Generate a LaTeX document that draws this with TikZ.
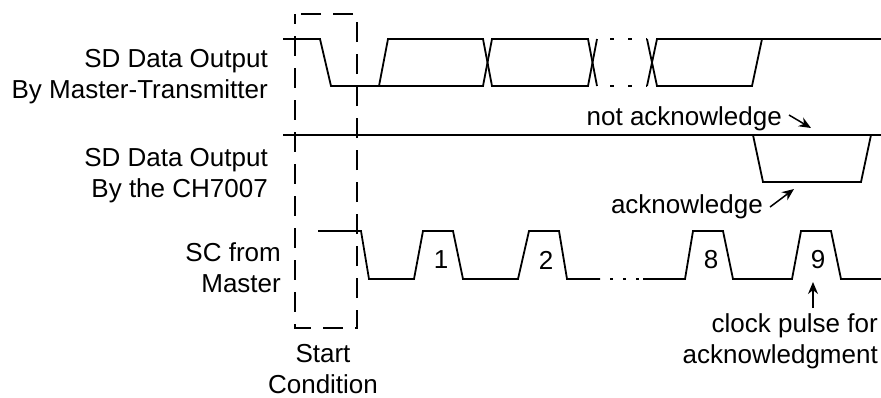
\documentclass[tikz,border=0pt]{standalone}
\usepackage{fontspec}
\setmainfont{Liberation Sans}
\usetikzlibrary{arrows.meta}
\tikzset{
    every node/.style={inner sep=0pt, font=\fontsize{26}{31}\selectfont}
}
\tikzset{
    wave/.style={line width=1.8pt},
    gapline/.style={line width=1.8pt, dash pattern=on 4pt off 14pt, dash phase=5pt},
    dotline/.style={line width=1.8pt, dash pattern=on 3pt off 10pt, dash phase=3pt},
    startbox/.style={line width=1.8pt, dash pattern=on 20pt off 12pt, dash phase=10pt},
    pointer/.style={line width=1.5pt, -{Stealth[length=12pt,width=10pt]}}
}

\begin{document}
\begin{tikzpicture}[x=1pt,y=-1pt]
	\useasboundingbox (0,0) rectangle (881,397);

	\node (m) [anchor=base east, align=right] at (268,98) {SD Data Output\\By Master-Transmitter};
	\node (c) [anchor=base east, align=right] at (268,197) {SD Data Output\\By the CH7007};
	\node (s) [anchor=base east, align=right] at (281,292) {SC from\\Master};
	\node (sc) [anchor=base, align=center] at (323,393) {Start\\Condition};

	\draw [startbox] (295,14) rectangle (357,328);

	\draw [wave] (283,39) -- (320,39) -- (331,86) -- (483,86) -- (492,39) -- (588,39) -- (597,86);
	\draw [wave] (379,86) -- (388,39) -- (483,39) -- (492,86) -- (588,86) -- (597,39);
	\draw [gapline] (597,39) -- (647,39); \draw [gapline] (597,86) -- (647,86);
	\draw [wave] (647,39) -- (657,86) -- (752,86) -- (762,39);
	\draw [wave] (647,86) -- (657,39) -- (881,39);

	\draw [wave] (283,135) -- (881,135);
	\draw [wave] (753,135) -- (763,182) -- (861,182) -- (871,135);

	\draw [wave] (318,231) -- (361,231) -- (369,279) -- (414,279) -- (423,231) -- (453,231)
		-- (463,279) -- (518,279) -- (529,231) -- (559,231) -- (567,279) -- (600,279);
	\draw [dotline] (600,279) -- (643,279);
	\draw [wave] (643,279) -- (685,279) -- (693,231) -- (723,231) -- (733,279) -- (792,279)
		-- (801,231) -- (831,231) -- (841,279) -- (881,279);

	\node (1) at (441,260) {1};
	\node (2) at (546,260) {2};
	\node (8) at (711,260) {8};
	\node (9) at (818,260) {9};

	\node (nack) [anchor=base east] at (782,125) {not acknowledge};
	\node (ack) [anchor=base east] at (763,213) {acknowledge};
	\node (clk) [anchor=base east, align=right] at (878,363) {clock pulse for\\acknowledgment};

	\coordinate (na) at (789,115); \coordinate (nb) at (811,128);
	\coordinate (aa) at (770,207); \coordinate (ab) at (794,189);
	\coordinate (ca) at (813,308); \coordinate (cb) at (813,282);
	\draw [pointer] (na) -- (nb); \draw [pointer] (aa) -- (ab);
	\draw [pointer] (ca) -- (cb);
\end{tikzpicture}
\end{document}
